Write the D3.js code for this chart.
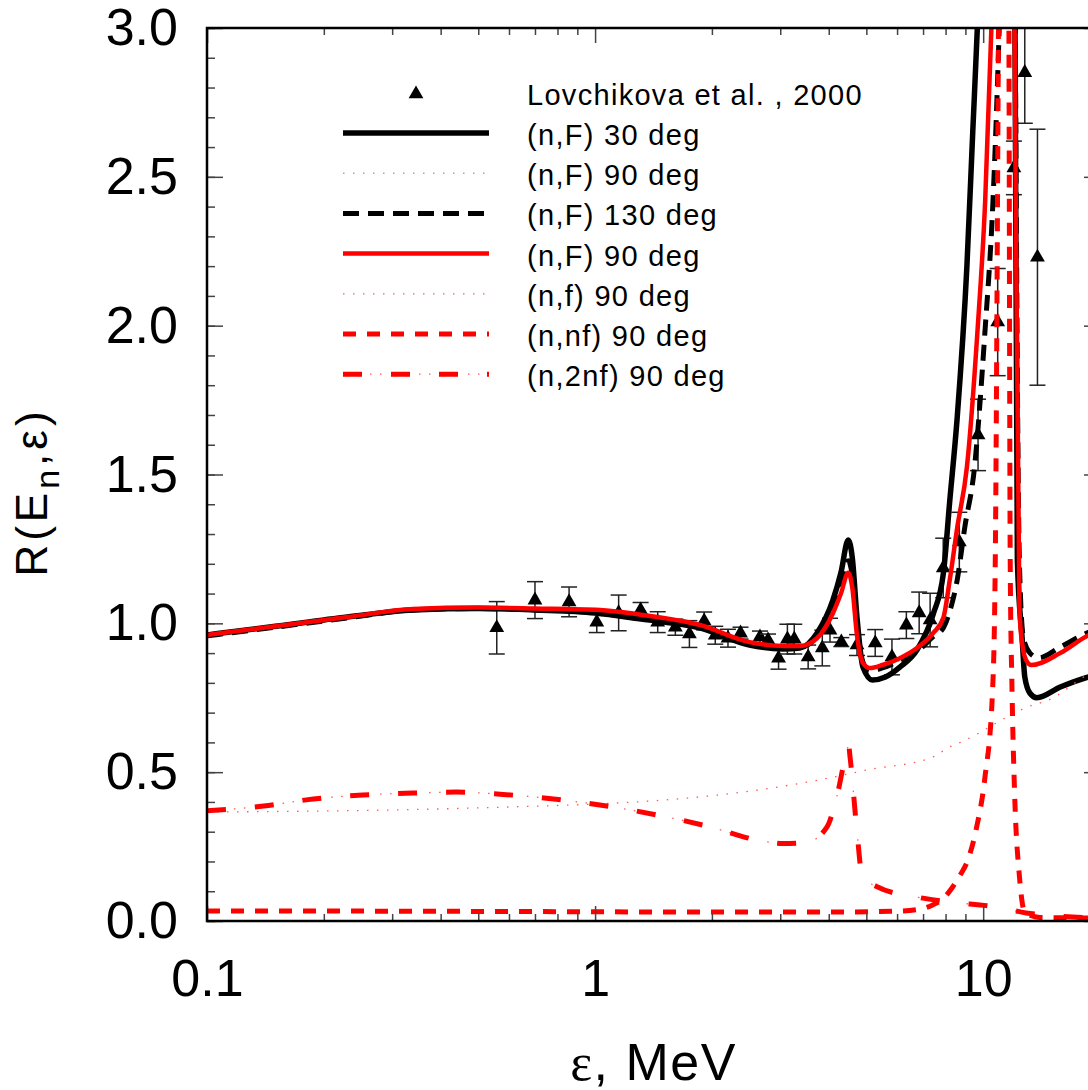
<!DOCTYPE html>
<html>
<head>
<meta charset="utf-8">
<script src="https://cdn.jsdelivr.net/npm/d3@7"></script>
<style>
    body { margin: 0; background: #fff; }
    text { font-family: "Liberation Sans", Arial, sans-serif; fill: #000; }
</style>
</head>
<body>
<svg id="chart"></svg>
<script>
// ---- data (E in MeV, R dimensionless) ----
const nF30E = [0.1, 0.15, 0.23, 0.34, 0.5, 0.7, 1.0, 1.3, 1.87, 2.5, 3.05, 3.37, 3.73, 4.1, 4.3, 4.49, 4.6, 4.73, 4.9, 5.18, 5.6, 6.1, 6.75, 7.43, 7.9, 8.2, 8.57, 9.08, 9.4, 9.66, 10.5, 11.5, 12.05, 12.25, 12.6, 12.8, 13.2, 13.75, 15.8, 18.7, 20];
const nF30R = [0.961, 0.99, 1.021, 1.045, 1.05, 1.045, 1.035, 1.015, 0.984, 0.927, 0.914, 0.917, 0.967, 1.078, 1.17, 1.28, 1.22, 1.02, 0.853, 0.81, 0.82, 0.853, 0.91, 1.03, 1.17, 1.41, 1.69, 2.2, 2.65, 3.0, 4.5, 4.5, 3.3, 1.21, 0.95, 0.82, 0.765, 0.75, 0.786, 0.82, 0.83];

const nF90E = [0.1, 0.15, 0.23, 0.34, 0.5, 0.7, 1.03, 1.3, 1.87, 2.5, 3.05, 3.37, 3.73, 4.1, 4.3, 4.49, 4.6, 4.73, 4.9, 5.1, 5.5, 6.1, 6.75, 7.43, 7.9, 8.2, 8.57, 9.08, 9.66, 10.12, 10.5, 11.0, 11.9, 12.05, 12.4, 12.6, 12.9, 13.3, 15.8, 18.7, 20];
const nF90R = [0.961, 0.99, 1.021, 1.048, 1.053, 1.05, 1.045, 1.03, 0.994, 0.937, 0.924, 0.924, 0.95, 1.034, 1.1, 1.17, 1.12, 0.96, 0.867, 0.85, 0.86, 0.883, 0.917, 0.967, 1.02, 1.145, 1.32, 1.525, 1.975, 2.42, 3.0, 4.0, 4.0, 3.0, 1.045, 0.934, 0.877, 0.86, 0.9, 0.96, 0.975];

const nF130E = [0.1, 0.15, 0.23, 0.34, 0.5, 0.7, 1.03, 1.3, 1.87, 2.5, 3.05, 3.37, 3.73, 4.1, 4.3, 4.49, 4.6, 4.73, 4.9, 5.1, 5.5, 6.1, 6.75, 7.43, 7.9, 8.2, 8.57, 8.96, 9.5, 10.1, 10.6, 11.0, 11.5, 12.0, 12.1, 12.4, 12.7, 13.2, 13.9, 15.8, 18.7, 20];
const nF130R = [0.958, 0.987, 1.018, 1.045, 1.05, 1.046, 1.04, 1.024, 0.989, 0.932, 0.919, 0.92, 0.955, 1.05, 1.13, 1.21, 1.16, 0.99, 0.87, 0.84, 0.85, 0.875, 0.905, 0.955, 0.985, 1.04, 1.145, 1.32, 1.525, 1.975, 2.42, 3.0, 4.0, 4.0, 3.0, 1.2, 0.95, 0.9, 0.884, 0.92, 0.97, 0.985];

const nfE = [0.1, 0.5, 1.87, 4.1, 5.0, 7.4, 8.2, 8.73, 13.4, 14.6, 18.7, 20];
const nfR = [0.366, 0.38, 0.417, 0.483, 0.507, 0.55, 0.585, 0.6, 0.725, 0.74, 0.83, 0.85];

const nnfE = [0.1, 0.3, 1, 2, 4, 6.0, 7.0, 7.43, 7.89, 8.3, 8.73, 9.1, 9.6, 10.1, 10.57, 10.74, 10.95, 11.3, 11.65, 11.74, 11.87, 12.05, 12.4, 12.8, 14, 20];
const nnfR = [0.034, 0.033, 0.031, 0.03, 0.03, 0.033, 0.042, 0.055, 0.075, 0.11, 0.155, 0.2, 0.31, 0.48, 0.77, 1.19, 3.0, 6.0, 3.0, 1.21, 0.77, 0.43, 0.15, 0.03, 0.012, 0.01];

const n2nfE = [0.1, 0.14, 0.188, 0.252, 0.34, 0.44, 0.569, 1.11, 1.98, 2.66, 3.05, 3.52, 3.96, 4.2, 4.46, 4.5, 4.54, 4.73, 4.88, 5.33, 6.76, 8.07, 11.07, 12.9, 20];
const n2nfR = [0.37, 0.386, 0.41, 0.423, 0.43, 0.433, 0.426, 0.383, 0.316, 0.27, 0.26, 0.265, 0.316, 0.42, 0.575, 0.59, 0.55, 0.30, 0.15, 0.115, 0.08, 0.065, 0.045, 0.027, 0.01];

// Lovchikova et al., 2000
const expE = [0.558, 0.70, 0.857, 1.01, 1.15, 1.31, 1.45, 1.61, 1.75, 1.91, 2.04, 2.2, 2.37, 2.66, 2.79, 2.97, 3.13, 3.26, 3.54, 3.85, 4.03, 4.31, 4.73, 5.27, 5.82, 6.34, 6.84, 7.3, 7.89, 8.68, 9.7, 10.9, 12.0, 12.8, 13.8];
const expR = [0.985, 1.078, 1.072, 1.004, 1.035, 1.045, 1.004, 0.987, 0.964, 1.008, 0.96, 0.95, 0.967, 0.954, 0.944, 0.883, 0.947, 0.947, 0.887, 0.917, 0.977, 0.937, 0.927, 0.934, 0.887, 0.994, 1.035, 1.011, 1.186, 1.273, 1.633, 2.012, 2.53, 2.85, 2.23];
const expErr = [0.088, 0.062, 0.05, 0.035, 0.06, 0.025, 0.035, 0.027, 0.045, 0.03, 0.03, 0.03, 0.02, 0.02, 0.02, 0.037, 0.05, 0.05, 0.04, 0.06, 0.04, 0.015, 0.035, 0.045, 0.06, 0.045, 0.07, 0.09, 0.1, 0.1, 0.12, 0.18, 0.09, 0.17, 0.43];

const xMajor = [0.1, 1, 10];
const xMinor = [0.2, 0.3, 0.4, 0.5, 0.6, 0.7, 0.8, 0.9, 2, 3, 4, 5, 6, 7, 8, 9, 20];
const yMajor = [0, 0.5, 1.0, 1.5, 2.0, 2.5, 3.0];
const yMinor = d3.range(0, 31).map(i => i / 10);

const legendLabels = ['(n,F) 30 deg', '(n,F) 90 deg', '(n,F) 130 deg', '(n,F) 90 deg', '(n,f) 90 deg', '(n,nf) 90 deg', '(n,2nf) 90 deg'];

// ---- layout ----
const config = {
    width: 1088,
    height: 1090,
    left: 207, right: 1100, top: 28, bottom: 921
};

const svg = d3.select('#chart')
    .attr('width', config.width)
    .attr('height', config.height);

const x = d3.scaleLog().domain([0.1, 20]).range([config.left, config.right]);
const y = d3.scaleLinear().domain([0, 3]).range([config.bottom, config.top]);

const zip = (a, b) => a.map((v, i) => [v, b[i]]);

// line styles, shared by plot and legend
const styles = [
    {data: zip(nF30E, nF30R), color: '#000', width: 5.5, dash: null},
    {data: zip(nF90E, nF90R), color: '#a8a8a8', width: 1.5, dash: '1.5,8.5'},
    {data: zip(nF130E, nF130R), color: '#000', width: 5, dash: '16,9'},
    {data: zip(nF90E, nF90R), color: '#ff0000', width: 4.5, dash: null},
    {data: zip(nfE, nfR), color: '#ff5a5a', width: 1.3, dash: '1.5,8.5'},
    {data: zip(nnfE, nnfR), color: '#ff0000', width: 5, dash: '13,11'},
    {data: zip(n2nfE, n2nfR), color: '#ff0000', width: 5, dash: '19,29', dots: true}
];

svg.append('defs').append('clipPath')
    .attr('id', 'plot-clip')
    .append('rect')
    .attr('x', config.left)
    .attr('y', config.top)
    .attr('width', config.right - config.left)
    .attr('height', config.bottom - config.top);

const line = d3.line()
    .x(d => x(d[0]))
    .y(d => y(d[1]))
    .curve(d3.curveMonotoneX);

const plot = svg.append('g').attr('clip-path', 'url(#plot-clip)');

// experimental points with error bars (drawn under the curves)
const expData = expE.map((e, i) => ({e: e, r: expR[i], err: expErr[i]}));
const pts = plot.selectAll('.pt')
    .data(expData)
    .join('g')
    .attr('class', 'pt')
    .attr('transform', d => `translate(${x(d.e)},0)`);

pts.append('line')
    .attr('y1', d => y(d.r - d.err))
    .attr('y2', d => y(d.r + d.err))
    .attr('stroke', '#222')
    .attr('stroke-width', 1.5);

pts.selectAll('.cap')
    .data(d => [d.r - d.err, d.r + d.err])
    .join('line')
    .attr('x1', -8).attr('x2', 8)
    .attr('y1', v => y(v)).attr('y2', v => y(v))
    .attr('stroke', '#222')
    .attr('stroke-width', 1.5);

const tri = d3.symbol().type(d3.symbolTriangle).size(95);
pts.append('path')
    .attr('d', tri)
    .attr('transform', d => `translate(0,${y(d.r)})`)
    .attr('fill', '#000');

// draw order: gray dotted under, black next, red on top
const drawOrder = [1, 0, 2, 4, 6, 5, 3];
drawOrder.forEach(i => {
    const s = styles[i];
    if (s.dots) {
        plot.append('path')
            .attr('d', line(s.data))
            .attr('fill', 'none')
            .attr('stroke', '#ff5a5a')
            .attr('stroke-width', 1.3)
            .attr('stroke-dasharray', '0,27,1.5,8.5,1.5,10.5');
    }
    plot.append('path')
        .attr('d', line(s.data))
        .attr('fill', 'none')
        .attr('stroke', s.color)
        .attr('stroke-width', s.width)
        .attr('stroke-dasharray', s.dash);
});

// ---- axes (ticks inward, frame drawn separately) ----
const axisFont = 52;

svg.append('g')
    .attr('transform', `translate(0,${config.bottom})`)
    .call(d3.axisBottom(x).tickValues(xMinor).tickSize(-7).tickFormat(''))
    .call(g => g.select('.domain').remove());

svg.append('g')
    .attr('transform', `translate(0,${config.bottom})`)
    .call(d3.axisBottom(x).tickValues(xMajor).tickSize(-15).tickPadding(38).tickFormat(d3.format('~g')))
    .call(g => g.select('.domain').remove())
    .call(g => g.selectAll('text').style('font-size', axisFont + 'px').style('font-family', '"Liberation Sans", Arial, sans-serif').attr('fill', '#000'));

svg.append('g')
    .attr('transform', `translate(0,${config.top})`)
    .call(d3.axisTop(x).tickValues(xMinor).tickSize(-7).tickFormat(''))
    .call(g => g.select('.domain').remove());

svg.append('g')
    .attr('transform', `translate(0,${config.top})`)
    .call(d3.axisTop(x).tickValues(xMajor).tickSize(-15).tickFormat(''))
    .call(g => g.select('.domain').remove());

svg.append('g')
    .attr('transform', `translate(${config.left},0)`)
    .call(d3.axisLeft(y).tickValues(yMinor).tickSize(-8).tickFormat(''))
    .call(g => g.select('.domain').remove());

svg.append('g')
    .attr('transform', `translate(${config.left},0)`)
    .call(d3.axisLeft(y).tickValues(yMajor).tickSize(-16).tickPadding(29).tickFormat(d3.format('.1f')))
    .call(g => g.select('.domain').remove())
    .call(g => g.selectAll('text').style('font-size', axisFont + 'px').style('font-family', '"Liberation Sans", Arial, sans-serif').attr('fill', '#000'));

svg.append('g')
    .attr('transform', `translate(${config.right},0)`)
    .call(d3.axisRight(y).tickValues(yMinor).tickSize(-8).tickFormat(''))
    .call(g => g.select('.domain').remove());

svg.append('g')
    .attr('transform', `translate(${config.right},0)`)
    .call(d3.axisRight(y).tickValues(yMajor).tickSize(-16).tickFormat(''))
    .call(g => g.select('.domain').remove());

svg.selectAll('.tick line')
    .attr('stroke', '#444')
    .attr('stroke-width', 1.5);

// frame
svg.append('rect')
    .attr('x', config.left)
    .attr('y', config.top)
    .attr('width', config.right - config.left)
    .attr('height', config.bottom - config.top)
    .attr('fill', 'none')
    .attr('stroke', '#000')
    .attr('stroke-width', 2.5);

// axis titles
const xTitle = svg.append('text')
    .attr('x', (config.left + config.right) / 2)
    .attr('y', 1080)
    .attr('text-anchor', 'middle')
    .style('font-size', '52px')
    .style('letter-spacing', '1.5px');
xTitle.append('tspan').style('font-family', '"Liberation Serif", serif').text('ε');
xTitle.append('tspan').text(', MeV');

const yTitle = svg.append('text')
    .attr('transform', 'translate(47,492) rotate(-90)')
    .attr('text-anchor', 'middle')
    .style('font-size', '44px')
    .style('letter-spacing', '4px');
yTitle.append('tspan').text('R(E');
yTitle.append('tspan').attr('dy', 12).style('font-size', '34px').text('n');
yTitle.append('tspan').attr('dy', -12).text(',ε)');

// ---- legend ----
const legend = svg.append('g');
const rowY = i => 133 + i * 40.2;
const legendFont = '29px';

legend.append('path')
    .attr('d', tri)
    .attr('transform', 'translate(416,94)')
    .attr('fill', '#000');
legend.append('text')
    .attr('x', 527)
    .attr('y', 105)
    .style('font-size', legendFont)
    .style('letter-spacing', '1.3px')
    .text('Lovchikova et al. , 2000');

styles.forEach((s, i) => {
    const yy = rowY(i);
    if (s.dots) {
        legend.append('line')
            .attr('x1', 343).attr('x2', 489)
            .attr('y1', yy).attr('y2', yy)
            .attr('stroke', '#ff5a5a')
            .attr('stroke-width', 1.3)
            .attr('stroke-dasharray', '0,27,1.5,8.5,1.5,10.5');
    }
    legend.append('line')
        .attr('x1', 343).attr('x2', 489)
        .attr('y1', yy).attr('y2', yy)
        .attr('stroke', s.color)
        .attr('stroke-width', s.width)
        .attr('stroke-dasharray', s.dash);
    legend.append('text')
        .attr('x', 527)
        .attr('y', yy + 12)
        .style('font-size', legendFont)
        .style('letter-spacing', '1.3px')
        .text(legendLabels[i]);
});
</script>
</body>
</html>
